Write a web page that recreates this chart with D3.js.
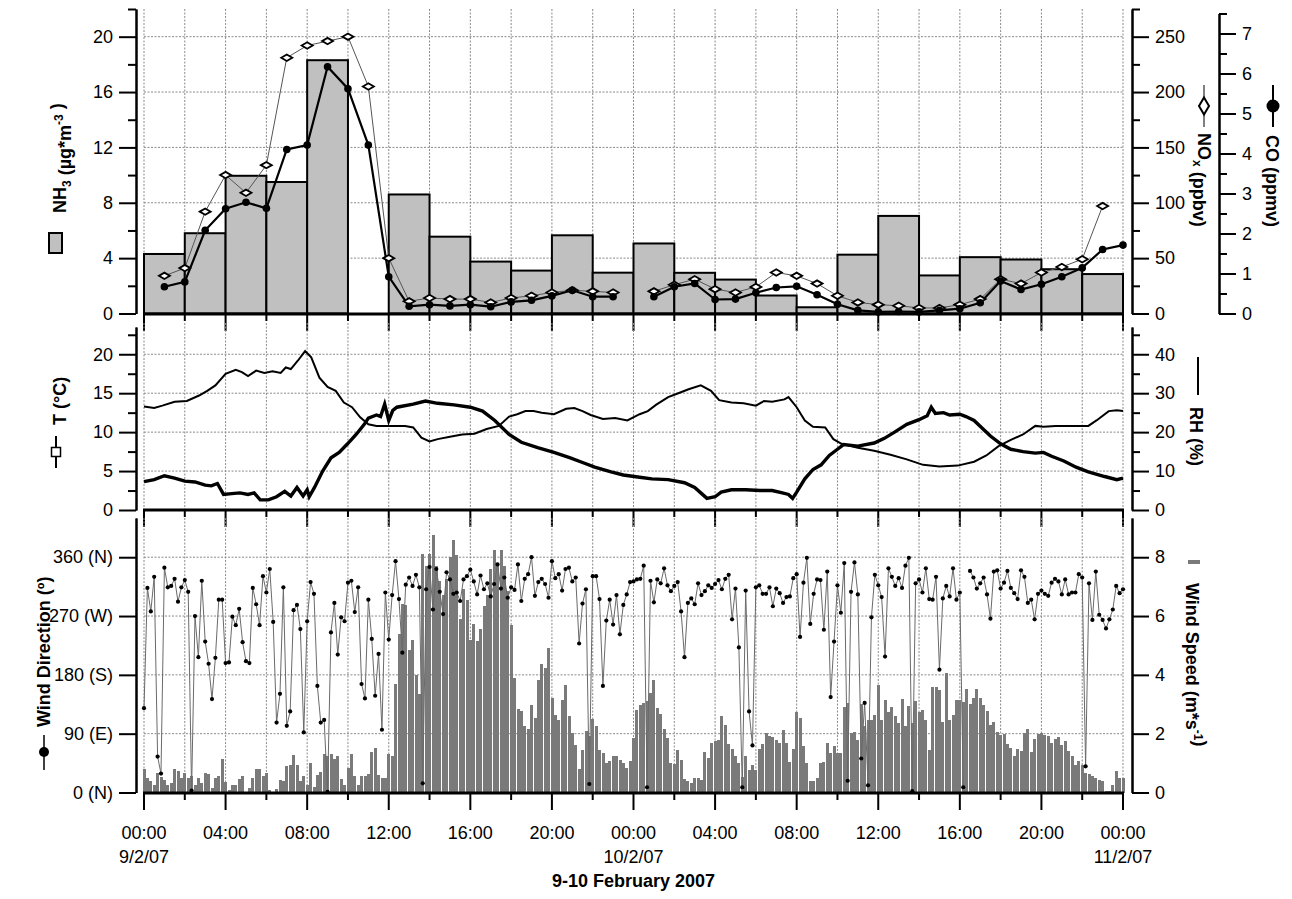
<!DOCTYPE html>
<html>
<head>
<meta charset="utf-8">
<script src="https://cdn.jsdelivr.net/npm/d3@7"></script>
<style>
body { margin: 0; background: #fff; }
svg text { font-family: "Liberation Sans", Arial, sans-serif; fill: #000; }
</style>
</head>
<body>
<div id="chart"></div>
<script>
// ---- data ----
// NH3, 2-hour samples (start hour, value in ug/m3)
var nh3Start = [0,2,4,6,8,10,12,14,16,18,20,22,24,26,28,30,32,34,36,38,40,42,44,46];
var nh3 = [4.3,5.8,9.95,9.5,18.3,null,8.6,5.55,3.75,3.1,5.65,2.95,5.06,2.94,2.45,1.3,0.45,4.25,7.05,2.75,4.07,3.9,3.2,2.85];

// hourly NOx (ppbv) and CO (ppmv), hours 1..48
var gasHours = [1,2,3,4,5,6,7,8,9,10,11,12,13,14,15,16,17,18,19,20,21,22,23,24,25,26,27,28,29,30,31,32,33,34,35,36,37,38,39,40,41,42,43,44,45,46,47,48];
var nox = [34,41,92,125,109,134,231,242,246,250,205,50,11,14,13,13,10,14,16,19,21,20,19,null,20,26,31,22,19,24,37,34,27,16,10,8,7,5,5,8,13,31,27,37,42,49,97,null];
var co = [0.67,0.79,2.08,2.62,2.78,2.63,4.1,4.21,6.17,5.62,4.21,0.92,0.18,0.22,0.19,0.22,0.17,0.29,0.33,0.44,0.58,0.42,0.42,null,0.42,0.67,0.75,0.35,0.36,0.52,0.65,0.68,0.47,0.23,0.08,0.04,0.05,0.04,0.08,0.12,0.27,0.81,0.6,0.73,0.92,1.14,1.6,1.71];

// temperature (C)
var tHours = [0,0.5,1,1.5,2,2.5,3,3.3,3.6,3.9,4.3,4.7,5.1,5.4,5.7,6.1,6.5,6.9,7.2,7.5,7.8,8.0,8.1,8.36,8.76,9.17,9.57,9.98,10.4,10.8,11.0,11.4,11.6,11.8,12.0,12.2,12.4,13.2,13.8,14.4,15.2,16.0,16.6,17.2,17.9,18.5,19.3,20.1,20.9,21.5,22.1,22.9,23.5,24.3,24.9,25.7,26.5,27.0,27.3,27.6,28.0,28.3,28.8,29.5,30.2,30.8,31.3,31.6,31.8,32.0,32.4,32.8,33.2,33.6,34.0,34.3,35.0,35.8,36.3,36.8,37.4,38.0,38.4,38.6,38.8,39.2,39.5,40.0,40.3,40.7,41.1,41.5,42.0,42.5,43.1,43.7,44.1,44.5,45.1,45.7,46.3,47.1,47.7,48.0];
var tVals = [3.65,3.9,4.4,4.1,3.7,3.6,3.2,3.1,3.4,2.0,2.1,2.2,2.0,2.2,1.3,1.3,1.7,2.4,1.8,2.9,1.8,2.6,1.7,2.9,5.0,6.7,7.4,8.5,9.7,11.0,11.8,12.2,12.0,13.6,11.5,12.8,13.2,13.6,14.0,13.7,13.5,13.2,12.7,11.5,9.7,8.7,8.0,7.4,6.7,6.1,5.5,4.9,4.5,4.2,4.0,3.9,3.5,2.9,2.2,1.5,1.7,2.3,2.6,2.6,2.5,2.5,2.2,2.0,1.5,2.3,4.0,5.2,5.8,7.0,7.8,8.4,8.2,8.6,9.2,10.0,11.0,11.6,12.1,13.2,12.4,12.5,12.2,12.3,12.0,11.5,10.5,9.5,8.5,7.8,7.5,7.3,7.4,6.9,6.3,5.5,4.9,4.3,3.9,4.1];

// relative humidity (%)
var rhHours = [0,0.5,0.9,1.5,2.1,2.7,3.1,3.5,4.0,4.5,4.8,5.1,5.5,5.9,6.3,6.7,6.95,7.2,7.55,7.9,8.2,8.6,9.0,9.4,9.8,10.2,10.6,11.0,11.4,12.0,12.8,13.2,13.6,14.0,14.4,15.0,15.6,16.2,16.8,17.4,17.9,18.3,18.7,19.1,19.5,20.1,20.7,21.1,21.5,21.9,22.5,23.1,23.7,24.3,24.7,25.1,25.7,26.1,26.7,27.3,27.8,28.2,28.8,29.4,30.0,30.4,30.8,31.4,31.6,32.0,32.4,32.8,33.4,33.8,34.2,35.0,35.8,36.6,37.4,38.2,39.0,39.9,40.7,41.3,41.9,42.5,43.1,43.7,44.1,44.7,45.5,46.3,46.7,47.3,47.7,48.0];
var rhVals = [26.6,26.2,26.8,27.8,28.0,29.4,30.6,32,35,36,35.4,34.4,35.8,35.2,35.6,35.2,36.6,36.2,38.4,40.8,39.2,34,31.6,30.6,27.6,26.4,23.8,22,21.6,21.6,21.6,21.2,18.6,17.6,18.2,18.8,19.4,19.6,20.8,21.6,24,24.6,25.4,25.4,25,24.6,26,26.2,25.4,24.4,23.4,23.6,23,24.6,25.4,27,29,29.8,31,32,30.6,28.2,27.6,27.4,26.8,28,27.8,28.4,29,26.4,23,21.4,21.2,18.2,17,16,15.2,14.2,13,11.6,11.2,11.4,12.4,14,16.4,18,19.4,21.6,21.4,21.6,21.6,21.6,23,25.4,25.6,25.4];

// 10-minute wind data, 9 Feb 00:00 .. 11 Feb 00:00
var windDir = [129,313,277,330,55,29,344,314,316,327,292,314,325,307,3,270,207,324,231,197,143,206,295,295,198,199,269,256,281,230,201,198,313,288,256,331,306,342,261,107,151,314,102,124,279,287,250,92,262,322,304,163,107,111,1,245,290,211,268,262,321,324,276,314,166,144,295,235,148,212,96,306,
234,302,354,296,214,318,329,316,333,314,14,311,345,280,342,307,273,337,326,304,306,293,326,331,341,323,303,332,311,320,300,319,349,312,329,298,314,310,349,293,327,334,360,301,322,327,319,298,354,328,334,309,342,344,323,329,228,289,311,13,331,331,296,163,263,295,257,302,242,287,303,322,
323,326,327,347,8,324,291,326,320,343,317,308,316,322,277,207,290,297,288,320,302,308,317,313,319,325,311,327,333,265,312,222,8,309,124,72,314,317,304,304,314,285,312,305,290,299,300,328,334,238,321,359,258,304,326,325,249,338,146,231,317,275,351,18,307,352,303,52,137,11,268,333,
317,299,208,343,330,316,328,313,347,359,2,320,326,306,343,296,295,330,188,297,316,300,343,295,306,8,null,339,329,312,320,329,303,266,338,340,312,321,339,313,305,296,340,330,290,295,265,304,309,304,301,321,327,323,303,326,303,306,306,334,329,40,320,264,338,272,264,251,265,280,316,305,311];
var windSpeed = [0.8,0.51,0.38,0.27,0.68,0.53,0.42,0.25,0.34,0.8,0.74,0.49,0.68,0.51,0.55,0.27,0.49,0.31,0.68,0.63,0.15,0.51,0.55,1.14,0.36,0.09,0.27,0.27,0.45,0.57,0.02,0.15,0.49,0.8,0.8,0.55,0.65,0.09,0.02,0.11,0.42,0.38,0.89,0.93,1.27,0.95,0.4,0.55,0.25,1.0,0.2,0.59,0.7,1.31,1.23,1.3,1.14,1.23,0.45,0.25,0.85,1.3,0.55,0.25,0.55,0.55,0.63,1.39,1.51,0.59,0.51,0.48,
1.31,1.25,3.69,5.4,6.42,6.36,4.86,5.2,4.0,3.35,8.1,7.7,8.1,8.77,7.7,7.2,6.7,7.27,8.0,8.6,8.07,5.9,6.93,6.56,5.19,5.74,5.14,5.57,6.33,6.7,7.6,8.24,7.8,8.24,7.7,6.85,5.68,3.89,2.84,2.78,2.27,2.16,2.98,2.55,3.84,4.38,4.23,4.92,3.23,2.64,2.48,3.15,3.65,2.61,2.01,1.61,0.8,1.43,2.09,1.93,2.5,2.27,1.45,1.34,1.0,1.07,1.25,1.23,1.1,1.02,0.85,1.08,
1.84,2.82,2.99,3.05,3.1,3.38,3.81,2.86,2.66,2.16,1.85,0.99,0.97,1.45,1.11,0.45,0.4,0.31,0.48,0.5,0.43,1.39,1.17,1.7,1.76,1.78,2.61,2.31,1.66,1.48,1.25,1.02,0.53,1.25,0.77,0.93,0.77,1.48,1.64,2.02,1.93,1.88,1.78,1.68,2.13,1.68,1.05,1.48,2.75,2.52,1.59,1.02,0.4,0.4,0.49,1.0,1.05,1.68,1.36,1.57,1.34,1.34,2.9,3.05,2.02,2.07,1.8,3.01,2.27,2.48,2.48,2.64,
3.64,2.48,3.15,2.75,2.9,2.59,2.36,3.18,2.27,2.93,2.36,3.1,2.75,2.82,2.48,1.45,3.58,3.58,3.5,2.41,4.07,2.48,2.64,3.13,3.13,3.07,3.52,3.01,3.2,3.52,3.2,2.98,2.78,2.3,2.39,2.05,1.95,1.99,1.65,1.51,1.25,1.48,1.42,2.01,2.16,1.39,1.82,1.99,2.02,1.95,1.91,1.7,1.82,1.88,1.61,1.74,1.4,1.25,0.93,1.06,0.93,0.68,0.63,0.57,0.51,0.43,0.4,0.06,0.06,0.25,0.74,0.51,0.51];

// tick labels
var timeLabels = ["00:00","04:00","08:00","12:00","16:00","20:00","00:00","04:00","08:00","12:00","16:00","20:00","00:00"];
var dateLabels = ["9/2/07","10/2/07","11/2/07"];
var dirLabels = ["0 (N)","90 (E)","180 (S)","270 (W)","360 (N)"];

// ---- layout ----
var W = 1292, H = 899;
var X0 = 144, X1 = 1123, AXL = 136, AXR = 1132, AXCO = 1219;
var TICK_FONT = 18;

var svg = d3.select("#chart").append("svg")
    .attr("width", W)
    .attr("height", H);

var x = d3.scaleLinear().domain([0, 48]).range([X0, X1]);

// panel 1
var yNH3 = d3.scaleLinear().domain([0, 22]).range([313.5, 9]);
var yNOx = d3.scaleLinear().domain([0, 275]).range([313.5, 9]);
var yCO = d3.scaleLinear().domain([0, 7.5]).range([313.5, 13.5]);
// panel 2
var yT = d3.scaleLinear().domain([0, 23.5]).range([510, 327]);
var yRH = d3.scaleLinear().domain([0, 47]).range([510, 327]);
// panel 3
var yDir = d3.scaleLinear().domain([0, 420]).range([792.5, 518]);
var ySpd = d3.scaleLinear().domain([0, 420 / 45]).range([792.5, 518]);

var twoHours = d3.range(0, 49, 2);

function grid(top, bottom, yScale, vals) {
    var g = svg.append("g")
        .attr("stroke", "#8a8a8a")
        .attr("stroke-width", 1)
        .attr("stroke-dasharray", "2,1.5");
    g.selectAll("line.v").data(twoHours).enter().append("line")
        .attr("x1", function(d) { return x(d); })
        .attr("x2", function(d) { return x(d); })
        .attr("y1", top)
        .attr("y2", bottom);
    g.selectAll("line.h").data(vals).enter().append("line")
        .attr("x1", X0)
        .attr("x2", X1)
        .attr("y1", function(d) { return yScale(d); })
        .attr("y2", function(d) { return yScale(d); });
}

function xAxis(yPos) {
    var g = svg.append("g").attr("stroke", "#000");
    g.selectAll("line.t").data(twoHours).enter().append("line")
        .attr("x1", function(d) { return x(d); })
        .attr("x2", function(d) { return x(d); })
        .attr("y1", yPos)
        .attr("y2", function(d) { return yPos + (d % 4 == 0 ? 17 : 7); })
        .attr("stroke-width", 2);
    g.append("line")
        .attr("x1", X0 - 1).attr("x2", X1 + 1)
        .attr("y1", yPos).attr("y2", yPos)
        .attr("stroke-width", 3);
}

function yAxis(scale, xPos, left, major, minor, fmt) {
    var mk = left ? d3.axisLeft : d3.axisRight;
    var gMinor = svg.append("g").attr("transform", "translate(" + xPos + ",0)")
        .call(mk(scale).tickValues(minor).tickSize(8).tickSizeOuter(0).tickFormat(""));
    var gMajor = svg.append("g").attr("transform", "translate(" + xPos + ",0)")
        .call(mk(scale).tickValues(major).tickSize(17).tickSizeOuter(0).tickPadding(6).tickFormat(fmt));
    [gMinor, gMajor].forEach(function(g) {
        g.selectAll("path.domain, line").attr("stroke", "#000").attr("stroke-width", 2);
        g.selectAll("text").attr("font-size", TICK_FONT).attr("fill", "#000");
    });
}

function addParts(t, parts) {
    parts.forEach(function(p) {
        if (p[1] == "sub") {
            t.append("tspan").attr("dy", 5).attr("font-size", 12).text(p[0]);
            t.append("tspan").attr("dy", -5).text("");
        } else if (p[1] == "sup") {
            t.append("tspan").attr("dy", -8).attr("font-size", 12).text(p[0]);
            t.append("tspan").attr("dy", 8).text("");
        } else {
            t.append("tspan").text(p[0]);
        }
    });
}

function leftLabel(bx, yStart, parts) {
    var t = svg.append("text")
        .attr("transform", "translate(" + bx + "," + yStart + ") rotate(-90)")
        .attr("font-size", 18)
        .attr("font-weight", "bold");
    addParts(t, parts);
}

function rightLabel(bx, yStart, parts) {
    var t = svg.append("text")
        .attr("transform", "translate(" + bx + "," + yStart + ") rotate(90)")
        .attr("font-size", 18)
        .attr("font-weight", "bold");
    addParts(t, parts);
}

// ---- panel 1 : NH3 / NOx / CO ----
grid(9, 313, yNH3, [4, 8, 12, 16, 20]);

svg.append("g").selectAll("rect")
    .data(nh3Start.map(function(h, i) { return { h: h, v: nh3[i] }; }).filter(function(d) { return d.v != null; }))
    .enter().append("rect")
    .attr("x", function(d) { return x(d.h); })
    .attr("width", function(d) { return x(d.h + 2) - x(d.h); })
    .attr("y", function(d) { return yNH3(d.v); })
    .attr("height", function(d) { return yNH3(0) - yNH3(d.v); })
    .attr("fill", "#c0c0c0")
    .attr("stroke", "#000")
    .attr("stroke-width", 2);

var noxData = gasHours.map(function(h, i) { return { h: h, v: nox[i] }; });
var coData = gasHours.map(function(h, i) { return { h: h, v: co[i] }; });

svg.append("path")
    .datum(noxData)
    .attr("fill", "none")
    .attr("stroke", "#555")
    .attr("stroke-width", 1)
    .attr("d", d3.line().defined(function(d) { return d.v != null; })
        .x(function(d) { return x(d.h); })
        .y(function(d) { return yNOx(d.v); }));

svg.append("path")
    .datum(coData)
    .attr("fill", "none")
    .attr("stroke", "#000")
    .attr("stroke-width", 2.2)
    .attr("d", d3.line().defined(function(d) { return d.v != null; })
        .x(function(d) { return x(d.h); })
        .y(function(d) { return yCO(d.v); }));

svg.append("g").selectAll("path")
    .data(noxData.filter(function(d) { return d.v != null; }))
    .enter().append("path")
    .attr("transform", function(d) { return "translate(" + x(d.h) + "," + yNOx(d.v) + ")"; })
    .attr("d", "M-5.5,0L0,-3.2L5.5,0L0,3.2Z")
    .attr("fill", "#fff")
    .attr("stroke", "#000")
    .attr("stroke-width", 1.8);

svg.append("g").selectAll("circle")
    .data(coData.filter(function(d) { return d.v != null; }))
    .enter().append("circle")
    .attr("cx", function(d) { return x(d.h); })
    .attr("cy", function(d) { return yCO(d.v); })
    .attr("r", 3.8)
    .attr("fill", "#000");

xAxis(314);
yAxis(yNH3, AXL, true, [0, 4, 8, 12, 16, 20], [2, 6, 10, 14, 18, 22], d3.format("d"));
yAxis(yNOx, AXR, false, [0, 50, 100, 150, 200, 250], [25, 75, 125, 175, 225, 275], d3.format("d"));
yAxis(yCO, AXCO, false, [0, 1, 2, 3, 4, 5, 6, 7], [0.5, 1.5, 2.5, 3.5, 4.5, 5.5, 6.5, 7.5], d3.format("d"));

// ---- panel 2 : T / RH ----
grid(323, 510, yT, [5, 10, 15, 20]);

svg.append("path")
    .datum(rhHours.map(function(h, i) { return { h: h, v: rhVals[i] }; }))
    .attr("fill", "none")
    .attr("stroke", "#000")
    .attr("stroke-width", 2)
    .attr("d", d3.line().x(function(d) { return x(d.h); }).y(function(d) { return yRH(d.v); }));

svg.append("path")
    .datum(tHours.map(function(h, i) { return { h: h, v: tVals[i] }; }))
    .attr("fill", "none")
    .attr("stroke", "#000")
    .attr("stroke-width", 3.4)
    .attr("stroke-linejoin", "miter")
    .attr("d", d3.line().x(function(d) { return x(d.h); }).y(function(d) { return yT(d.v); }));

xAxis(510);
yAxis(yT, AXL, true, [0, 5, 10, 15, 20], [2.5, 7.5, 12.5, 17.5, 22.5], d3.format("d"));
yAxis(yRH, AXR, false, [0, 10, 20, 30, 40], [5, 15, 25, 35, 45], d3.format("d"));

// ---- panel 3 : wind ----
grid(518, 792, yDir, [90, 180, 270, 360]);

var windData = windDir.map(function(d, i) { return { h: i / 6, dir: d, spd: windSpeed[i] }; });

svg.append("g").attr("shape-rendering", "crispEdges").selectAll("rect")
    .data(windData)
    .enter().append("rect")
    .attr("x", function(d) { return Math.round(x(d.h) - 1.4); })
    .attr("width", 3)
    .attr("y", function(d) { return ySpd(d.spd); })
    .attr("height", function(d) { return ySpd(0) - ySpd(d.spd); })
    .attr("fill", "#7a7a7a");

svg.append("path")
    .datum(windData)
    .attr("fill", "none")
    .attr("stroke", "#6a6a6a")
    .attr("stroke-width", 1)
    .attr("d", d3.line().defined(function(d) { return d.dir != null; })
        .x(function(d) { return x(d.h); })
        .y(function(d) { return yDir(d.dir); }));

svg.append("g").selectAll("circle")
    .data(windData.filter(function(d) { return d.dir != null; }))
    .enter().append("circle")
    .attr("cx", function(d) { return x(d.h); })
    .attr("cy", function(d) { return yDir(d.dir); })
    .attr("r", 2.1)
    .attr("fill", "#000");

xAxis(793);
yAxis(yDir, AXL, true, [0, 90, 180, 270, 360], [], function(d, i) { return dirLabels[i]; });
yAxis(ySpd, AXR, false, [0, 2, 4, 6, 8], [], d3.format("d"));

// bottom tick labels
svg.append("g").selectAll("text")
    .data(timeLabels)
    .enter().append("text")
    .attr("x", function(d, i) { return x(i * 4); })
    .attr("y", 839)
    .attr("text-anchor", "middle")
    .attr("font-size", TICK_FONT)
    .text(function(d) { return d; });

svg.append("g").selectAll("text")
    .data(dateLabels)
    .enter().append("text")
    .attr("x", function(d, i) { return x(i * 24); })
    .attr("y", 863)
    .attr("text-anchor", "middle")
    .attr("font-size", TICK_FONT)
    .text(function(d) { return d; });

svg.append("text")
    .attr("x", (X0 + X1) / 2)
    .attr("y", 887)
    .attr("text-anchor", "middle")
    .attr("font-size", 18)
    .attr("font-weight", "bold")
    .text("9-10 February 2007");

// ---- axis titles and legend symbols ----
leftLabel(66, 213, [["NH"], ["3", "sub"], [" (\u00b5g*m"], ["-3", "sup"], [" )"]]);
svg.append("rect").attr("x", 49).attr("y", 233).attr("width", 13).attr("height", 20)
    .attr("fill", "#c0c0c0").attr("stroke", "#000").attr("stroke-width", 2);

rightLabel(1198, 133, [["NO"], ["x", "sub"], [" (ppbv)"]]);
svg.append("line").attr("x1", 1204).attr("x2", 1204).attr("y1", 85).attr("y2", 127)
    .attr("stroke", "#000").attr("stroke-width", 1);
svg.append("path").attr("transform", "translate(1204,106)").attr("d", "M0,-8.5L5,0L0,8.5L-5,0Z")
    .attr("fill", "#fff").attr("stroke", "#000").attr("stroke-width", 2);

rightLabel(1266, 135, [["CO (ppmv)"]]);
svg.append("line").attr("x1", 1273).attr("x2", 1273).attr("y1", 85).attr("y2", 127)
    .attr("stroke", "#000").attr("stroke-width", 2);
svg.append("circle").attr("cx", 1273).attr("cy", 106).attr("r", 6.5).attr("fill", "#000");

leftLabel(66, 425, [["T (\u00b0C)"]]);
svg.append("line").attr("x1", 56).attr("x2", 56).attr("y1", 436).attr("y2", 468)
    .attr("stroke", "#000").attr("stroke-width", 2);
svg.append("rect").attr("x", 51.5).attr("y", 447.5).attr("width", 9).attr("height", 9)
    .attr("fill", "#fff").attr("stroke", "#000").attr("stroke-width", 1.5);

rightLabel(1190, 407, [["RH (%)"]]);
svg.append("line").attr("x1", 1198).attr("x2", 1198).attr("y1", 357).attr("y2", 395)
    .attr("stroke", "#000").attr("stroke-width", 2);

leftLabel(50, 727, [["Wind Direction (\u00ba)"]]);
svg.append("line").attr("x1", 44).attr("x2", 44).attr("y1", 735).attr("y2", 770)
    .attr("stroke", "#000").attr("stroke-width", 1.5);
svg.append("circle").attr("cx", 44).attr("cy", 752).attr("r", 5).attr("fill", "#000");

rightLabel(1186, 583, [["Wind Speed (m*s"], ["-1", "sup"], [")"]]);
svg.append("rect").attr("x", 1188).attr("y", 560).attr("width", 12).attr("height", 4)
    .attr("fill", "#7a7a7a");
</script>
</body>
</html>
